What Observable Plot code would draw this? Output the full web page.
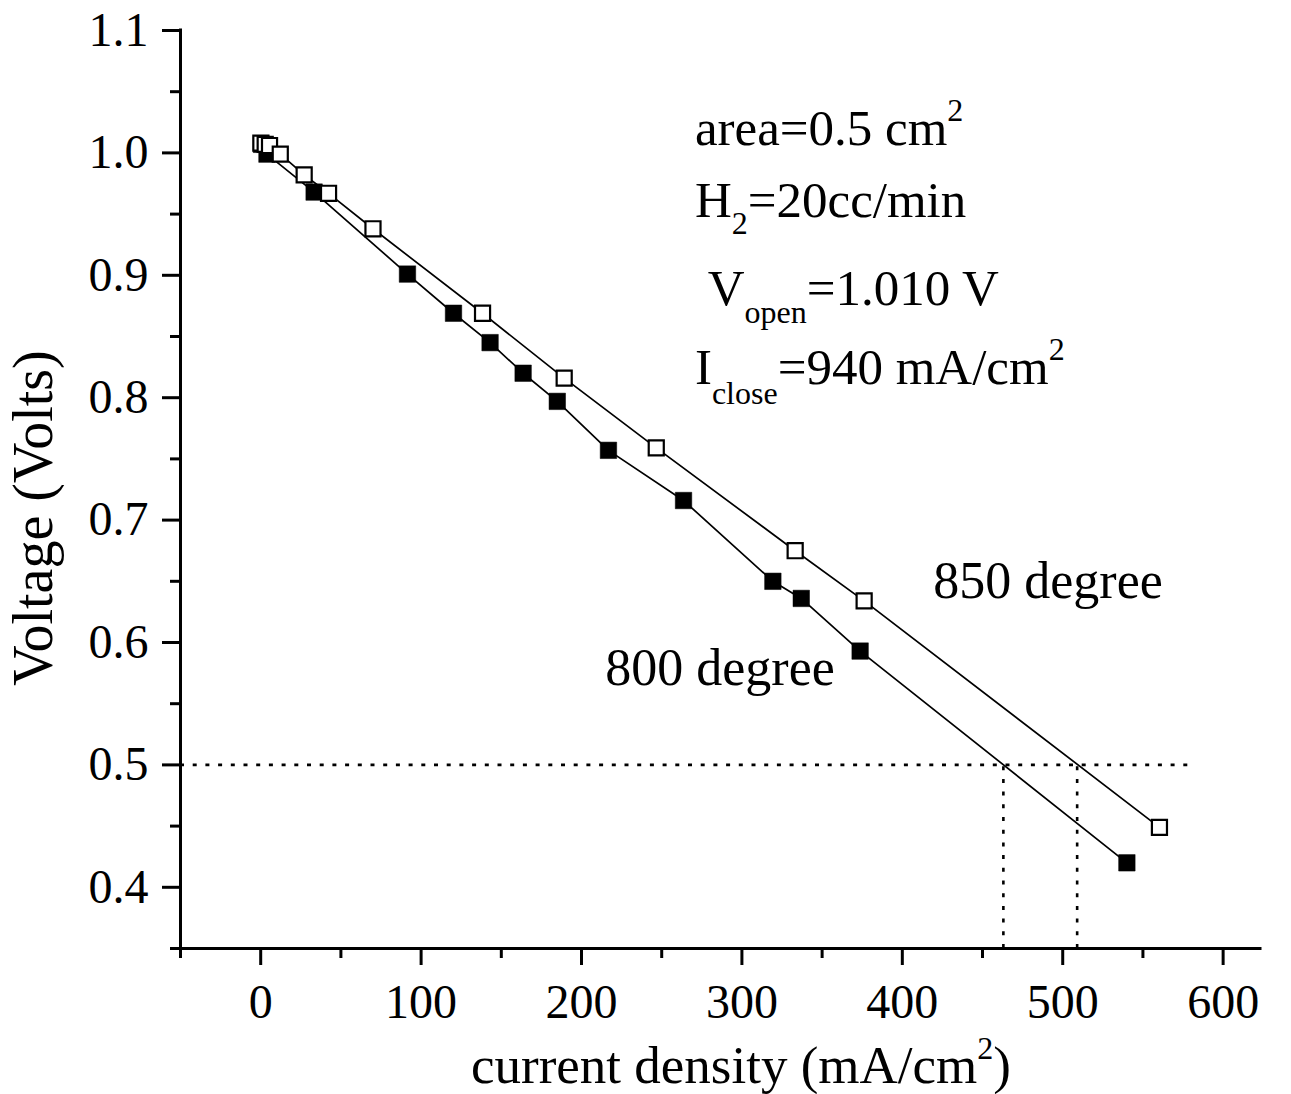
<!DOCTYPE html>
<html><head><meta charset="utf-8">
<script src="https://cdn.jsdelivr.net/npm/d3@7"></script>
<script src="https://cdn.jsdelivr.net/npm/@observablehq/plot@0.6"></script>
<style>body{margin:0;background:#fff} svg{display:block}</style>
</head><body><div id="chart"></div>
<script>
// 800 degree (filled squares)
const current800 = [0.5, 3.9, 33.3, 91.5, 120.2, 143, 163.6, 184.9, 216.8, 263.6, 319.3, 337, 373.7, 540];
const voltage800 = [1.007, 0.999, 0.968, 0.901, 0.869, 0.845, 0.820, 0.797, 0.757, 0.716, 0.650, 0.636, 0.593, 0.420];
// 850 degree (open squares)
const current850 = [0.1, 2.8, 5.5, 12.2, 27.1, 42.3, 70, 138.3, 189.2, 246.6, 333.2, 376.2, 560.3];
const voltage850 = [1.008, 1.007, 1.006, 0.999, 0.982, 0.967, 0.938, 0.869, 0.816, 0.759, 0.675, 0.634, 0.449];
// reference lines at 0.5 V
const refVoltage = [0.5];
const refCurrents = [463, 509];
const refLineEnd = 578;
// ticks
const xMajorTicks = [0, 100, 200, 300, 400, 500, 600];
const xMinorTicks = [-50, 50, 150, 250, 350, 450, 550];
const yMajorTicks = [0.4, 0.5, 0.6, 0.7, 0.8, 0.9, 1.0, 1.1];
const yMinorTicks = [0.35, 0.45, 0.55, 0.65, 0.75, 0.85, 0.95, 1.05];
const seriesLabels = ["850 degree", "800 degree"];

const s800 = current800.map((c, i) => ({c, v: voltage800[i]}));
const s850 = current850.map((c, i) => ({c, v: voltage850[i]}));

const X0 = -50, X1 = 623.3, Y0 = 0.35, Y1 = 1.1;
const font = '"Liberation Serif", "Times New Roman", serif';

const plot = Plot.plot({
  width: 1291, height: 1094,
  marginLeft: 180, marginRight: 31, marginTop: 30, marginBottom: 146,
  style: {fontFamily: font, fontSize: "48px", background: "white", color: "black", overflow: "visible"},
  x: {domain: [X0, X1]},
  y: {domain: [Y0, Y1]},
  marks: [
    Plot.ruleY(refVoltage, {x1: X0, x2: refLineEnd, stroke: "black", strokeWidth: 2.6, strokeDasharray: "4,8.7"}),
    Plot.ruleX(refCurrents, {y1: Y0, y2: refVoltage[0], stroke: "black", strokeWidth: 2.6, strokeDasharray: "4,8.7"}),
    Plot.line(s800, {x: "c", y: "v", stroke: "black", strokeWidth: 1.7}),
    Plot.line(s850, {x: "c", y: "v", stroke: "black", strokeWidth: 1.7}),
    Plot.dot(s800, {x: "c", y: "v", symbol: "square", r: 9.3, fill: "black", stroke: "black", strokeWidth: 0.5}),
    Plot.dot(s850, {x: "c", y: "v", symbol: "square", r: 8.5, fill: "white", stroke: "black", strokeWidth: 2.2}),
    Plot.axisX(xMajorTicks, {tickSize: 17, tickPadding: 18, strokeWidth: 3, fontSize: 48, tickFormat: d => String(d), label: null}),
    Plot.axisX(xMinorTicks, {tickSize: 10, strokeWidth: 3, tickFormat: () => "", label: null}),
    Plot.axisY(yMajorTicks, {tickSize: 18, tickPadding: 14, strokeWidth: 3, fontSize: 48, tickFormat: d3.format(".1f"), label: null}),
    Plot.axisY(yMinorTicks, {tickSize: 10, strokeWidth: 3, tickFormat: () => "", label: null}),
    Plot.ruleX([X0], {y1: Y0, y2: Y1, stroke: "black", strokeWidth: 3, strokeLinecap: "square"}),
    Plot.ruleY([Y0], {x1: X0, x2: X1, stroke: "black", strokeWidth: 3, strokeLinecap: "square"}),
    Plot.text([seriesLabels[0]], {x: 419.3, y: 0.650, text: d => d, textAnchor: "start", fontSize: 52}),
    Plot.text([seriesLabels[1]], {x: 214.8, y: 0.579, text: d => d, textAnchor: "start", fontSize: 52})
  ]
});
document.getElementById("chart").appendChild(plot);

// Rich text (sub/superscripts) positioned through the plot's scales
const sx = plot.scale("x"), sy = plot.scale("y");
const svg = d3.select(plot);
function rich(xp, yp, parts, size, opts = {}) {
  const t = svg.append("text")
    .attr("font-family", font).attr("font-size", size).attr("fill", "black")
    .attr("text-anchor", opts.anchor || "start");
  if (opts.rotate) t.attr("transform", `translate(${xp},${yp}) rotate(-90)`);
  else t.attr("x", xp).attr("y", yp);
  let cur = 0;
  for (const p of parts) {
    const shift = p.sub ? p.sub : p.sup ? -p.sup : 0;
    const ts = t.append("tspan").text(p.t).attr("dy", shift - cur);
    if (p.sub || p.sup) ts.attr("font-size", p.size || 32);
    cur = shift;
  }
  return t;
}
const ax = sx.apply(271);
const lineY = [1.006, 0.947, 0.875, 0.811];
rich(ax, sy.apply(lineY[0]), [{t: "area=0.5 cm"}, {t: "2", sup: 24}], 51);
rich(ax, sy.apply(lineY[1]), [{t: "H"}, {t: "2", sub: 17}, {t: "=20cc/min"}], 51);
rich(ax, sy.apply(lineY[2]), [{t: "\u00a0V"}, {t: "open", sub: 18}, {t: "=1.010 V"}], 51);
rich(ax, sy.apply(lineY[3]), [{t: "I"}, {t: "close", sub: 20}, {t: "=940 mA/cm"}, {t: "2", sup: 24}], 51);

// axis titles
rich(741, 1083, [{t: "current density (mA/cm"}, {t: "2", sup: 24}, {t: ")"}], 53, {anchor: "middle"});
rich(52, 518, [{t: "Voltage (Volts)"}], 56, {anchor: "middle", rotate: true});
</script>
</body></html>
